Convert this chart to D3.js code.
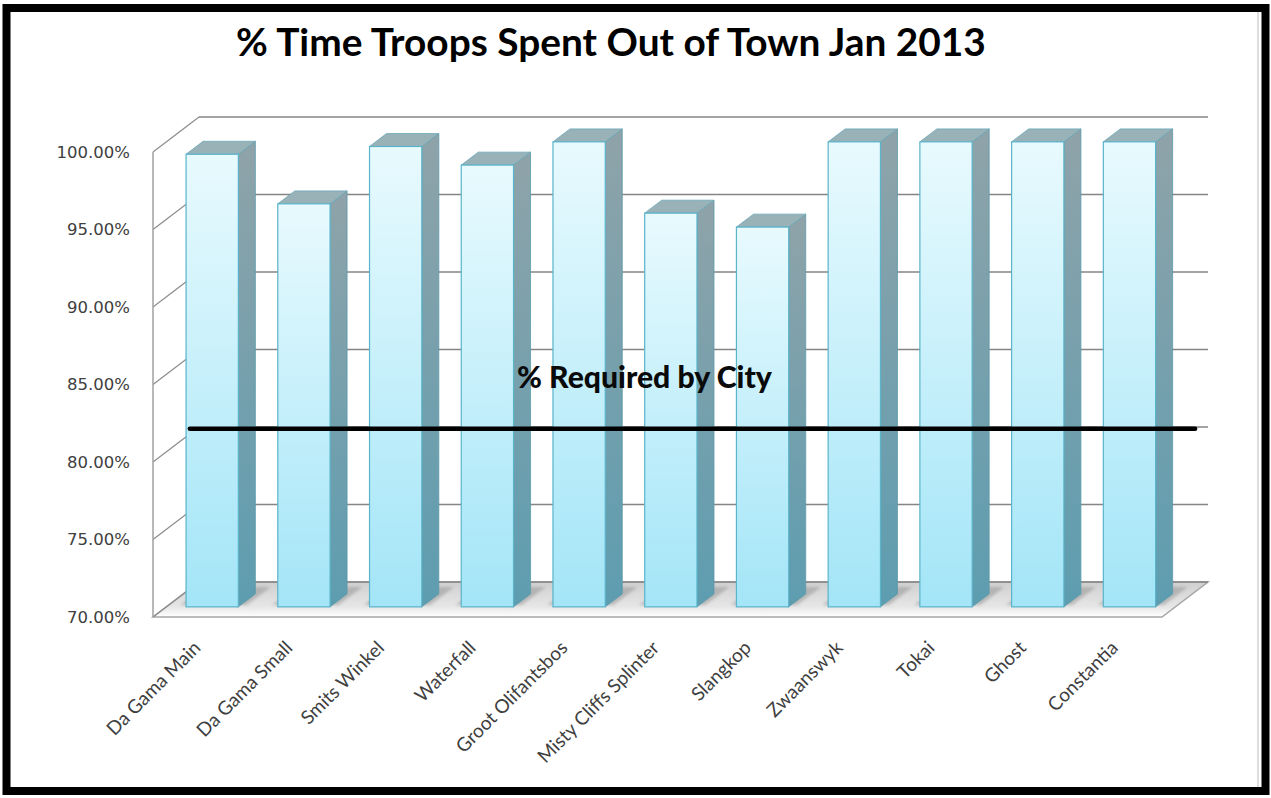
<!DOCTYPE html>
<html>
<head>
<meta charset="utf-8">
<script src="https://cdn.jsdelivr.net/npm/d3@7"></script>
<style>
  html, body { margin: 0; padding: 0; background: #ffffff; }
  svg { display: block; }
</style>
</head>
<body>
<svg id="chart" width="1271" height="798"></svg>
<script>
// ---------------- DATA ----------------
const categories = ["Da Gama Main", "Da Gama Small", "Smits Winkel", "Waterfall", "Groot Olifantsbos",
  "Misty Cliffs Splinter", "Slangkop", "Zwaanswyk", "Tokai", "Ghost", "Constantia"];
const values = [99.2, 96.0, 99.7, 98.5, 100, 95.4, 94.5, 100, 100, 100, 100];
const yTicks = [70, 75, 80, 85, 90, 95, 100];
const requiredValue = 80;
const titleText = "% Time Troops Spent Out of Town Jan 2013";
const requiredLabel = "% Required by City";

// ---------------- LAYOUT ----------------
const W = 1271, H = 798;
const svg = d3.select("#chart");
const DX = 46, DY = -35;           // 3D depth offset (front -> back wall)
const barFront = 0.29, barBack = 0.66; // bar depth positions (fraction of depth)

const y = d3.scaleLinear().domain([70, 100]).range([617, 152]);
const x = d3.scaleBand().domain(categories).range([153, 1162]).paddingInner(0.43).paddingOuter(0.215);
const P = (px, py, d) => [px + DX * d, py + DY * d];
const poly = pts => pts.map(p => p.join(",")).join(" ");

const defs = svg.append("defs");
const gFront = defs.append("linearGradient").attr("id", "gFront").attr("x1", 0).attr("y1", 0).attr("x2", 0).attr("y2", 1);
gFront.append("stop").attr("offset", "0%").attr("stop-color", "#e8fafe");
gFront.append("stop").attr("offset", "100%").attr("stop-color", "#a3e5f7");
const gSide = defs.append("linearGradient").attr("id", "gSide").attr("x1", 0).attr("y1", 0).attr("x2", 0).attr("y2", 1);
gSide.append("stop").attr("offset", "0%").attr("stop-color", "#8fa3a9");
gSide.append("stop").attr("offset", "100%").attr("stop-color", "#5d9db0");
const gFloor = defs.append("linearGradient").attr("id", "gFloor").attr("x1", 0).attr("y1", 0).attr("x2", 0).attr("y2", 1);
gFloor.append("stop").attr("offset", "0%").attr("stop-color", "#cfcfcf");
gFloor.append("stop").attr("offset", "70%").attr("stop-color", "#e6e6e6");
gFloor.append("stop").attr("offset", "100%").attr("stop-color", "#ffffff");
const blur = defs.append("filter").attr("id", "soft").attr("x", "-20%").attr("y", "-50%").attr("width", "140%").attr("height", "200%");
blur.append("feGaussianBlur").attr("stdDeviation", 1.5);

// background + frame
svg.append("rect").attr("x", 0).attr("y", 0).attr("width", W).attr("height", H).attr("fill", "#ffffff");
svg.append("rect").attr("x", 6.5).attr("y", 8).attr("width", 1259).attr("height", 783)
  .attr("fill", "none").attr("stroke", "#000").attr("stroke-width", 8);
svg.append("line").attr("x1", 1258).attr("x2", 1258).attr("y1", 12).attr("y2", 787)
  .attr("stroke", "#bdbdbd").attr("stroke-width", 1);

// ---------------- WALLS / GRID ----------------
const [xl, xr] = x.range();
const grid = svg.append("g");
// floor
grid.append("polygon")
  .attr("points", poly([P(xl, y(70), 0), P(xr, y(70), 0), P(xr, y(70), 1), P(xl, y(70), 1)]))
  .attr("fill", "url(#gFloor)").attr("stroke", "#a6a6a6").attr("stroke-width", 1.5);
// back wall gridlines
grid.selectAll("line.back").data(yTicks).join("line").attr("class", "back")
  .attr("x1", d => P(xl, y(d), 1)[0]).attr("y1", d => P(xl, y(d), 1)[1])
  .attr("x2", d => P(xr, y(d), 1)[0]).attr("y2", d => P(xr, y(d), 1)[1])
  .attr("stroke", "#858585").attr("stroke-width", 1.5);
// side wall diagonals
grid.selectAll("line.side").data(yTicks).join("line").attr("class", "side")
  .attr("x1", d => P(xl, y(d), 0)[0]).attr("y1", d => P(xl, y(d), 0)[1])
  .attr("x2", d => P(xl, y(d), 1)[0]).attr("y2", d => P(xl, y(d), 1)[1])
  .attr("stroke", "#8c8c8c").attr("stroke-width", 1.2);
// front vertical axis line
grid.append("line").attr("x1", xl).attr("x2", xl).attr("y1", y(100)).attr("y2", y(70))
  .attr("stroke", "#a0a0a0").attr("stroke-width", 1.5);

// ---------------- Y AXIS LABELS ----------------
const yAxis = d3.axisLeft(y).tickValues(yTicks).tickSize(0).tickPadding(23)
  .tickFormat(d => d.toFixed(2) + "%");
const yg = svg.append("g").attr("transform", `translate(${xl},0)`).call(yAxis);
yg.select(".domain").remove();
yg.selectAll("text").attr("font-family", "'DejaVu Sans', sans-serif").attr("font-size", 16.5)
  .attr("fill", "#404040");

// ---------------- BARS ----------------
const data = categories.map((c, i) => ({ c, v: values[i] }));
const bars = svg.append("g").selectAll("g.bar").data(data).join("g").attr("class", "bar");
// floor shadow
bars.append("polygon")
  .attr("points", d => {
    const x0 = x(d.c), x1 = x(d.c) + x.bandwidth();
    return poly([P(x0 - 8, y(70), barFront + 0.05), P(x1 + 6, y(70), barFront + 0.05),
                 P(x1 + 6, y(70), barBack + 0.2), P(x0 - 8, y(70), barBack + 0.2)]);
  })
  .attr("fill", "#909090").attr("opacity", 0.5).attr("filter", "url(#soft)");
// side face
bars.append("polygon")
  .attr("points", d => {
    const x1 = x(d.c) + x.bandwidth();
    return poly([P(x1, y(d.v), barFront), P(x1, y(d.v), barBack), P(x1, y(70), barBack), P(x1, y(70), barFront)]);
  })
  .attr("fill", "url(#gSide)").attr("stroke", "#5c9aab").attr("stroke-width", 0.8);
// top face
bars.append("polygon")
  .attr("points", d => {
    const x0 = x(d.c), x1 = x(d.c) + x.bandwidth();
    return poly([P(x0, y(d.v), barFront), P(x1, y(d.v), barFront), P(x1, y(d.v), barBack), P(x0, y(d.v), barBack)]);
  })
  .attr("fill", "#98b2b8").attr("stroke", "#6aa7b8").attr("stroke-width", 0.8);
// front face
bars.append("rect")
  .attr("x", d => P(x(d.c), 0, barFront)[0])
  .attr("y", d => P(0, y(d.v), barFront)[1])
  .attr("width", x.bandwidth())
  .attr("height", d => y(70) - y(d.v))
  .attr("fill", "url(#gFront)").attr("stroke", "#5ab4ca").attr("stroke-width", 1.2);

// ---------------- REQUIRED LINE ----------------
const reqDepth = 0.95;
svg.append("line")
  .attr("x1", P(xl, 0, 0.8)[0]).attr("x2", P(xr, 0, 0.72)[0])
  .attr("y1", P(0, y(requiredValue), reqDepth)[1]).attr("y2", P(0, y(requiredValue), reqDepth)[1])
  .attr("stroke", "#000").attr("stroke-width", 4.5).attr("stroke-linecap", "round");

const reqText = svg.append("text").text(requiredLabel)
  .attr("x", 517).attr("y", 388)
  .attr("font-family", "Lato, sans-serif").attr("font-weight", 900).attr("font-size", 24)
  .attr("fill", "#0a0a0a");
fitWidth(reqText, 255);

// ---------------- X LABELS ----------------
svg.append("g").selectAll("text").data(categories).join("text")
  .text(d => d)
  .attr("transform", d => `translate(${x(d) + x.bandwidth() / 2 + 3},${649}) rotate(-45)`)
  .attr("text-anchor", "end")
  .attr("font-family", "Lato, sans-serif").attr("font-size", 19)
  .attr("fill", "#404040");

// ---------------- TITLE ----------------
const title = svg.append("text").text(titleText)
  .attr("x", 611).attr("y", 56).attr("text-anchor", "middle")
  .attr("font-family", "Lato, sans-serif").attr("font-weight", 700).attr("font-size", 34)
  .attr("fill", "#000");
fitWidth(title, 750);

function fitWidth(sel, target) {
  const fs = +sel.attr("font-size");
  const w = sel.node().getComputedTextLength();
  if (w > 0) sel.attr("font-size", fs * target / w);
}
</script>
</body>
</html>
